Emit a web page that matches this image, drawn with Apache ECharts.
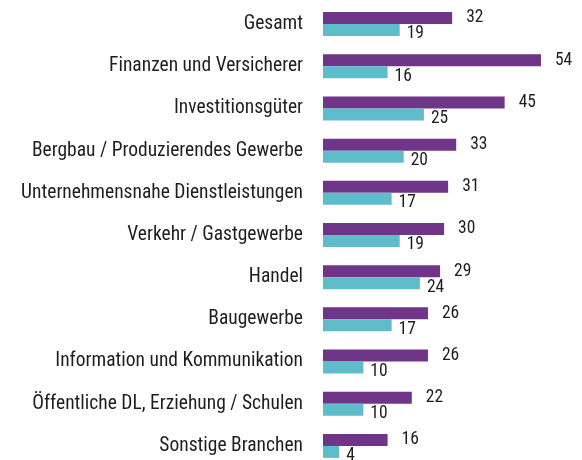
<!DOCTYPE html>
<html>
<head>
<meta charset="utf-8">
<script src="https://cdn.jsdelivr.net/npm/echarts@6/dist/echarts.min.js"></script>
<style>
  html, body { margin: 0; padding: 0; background: #fff; }
  #chart { width: 582px; height: 460px; }
</style>
</head>
<body>
<div id="chart"></div>
<script>
// Branchen von oben nach unten
const branchen = [
  "Gesamt",
  "Finanzen und Versicherer",
  "Investitionsgüter",
  "Bergbau / Produzierendes Gewerbe",
  "Unternehmensnahe Dienstleistungen",
  "Verkehr / Gastgewerbe",
  "Handel",
  "Baugewerbe",
  "Information und Kommunikation",
  "Öffentliche DL, Erziehung / Schulen",
  "Sonstige Branchen"
]
const werteLila = [32, 54, 45, 33, 31, 30, 29, 26, 26, 22, 16]
const werteTuerkis = [19, 16, 25, 20, 17, 19, 24, 17, 10, 10, 4]

const schrift = "'Roboto Condensed', 'Liberation Sans Narrow', sans-serif"

let myChart = echarts.init(document.getElementById("chart"))
myChart.setOption({
  animation: false,
  grid: {
    left: 323,
    top: 3,
    width: 242.2,
    height: 464,
    containLabel: false,
    outerBoundsMode: "none"
  },
  xAxis: {
    type: "value",
    min: 0,
    max: 60,
    show: false
  },
  yAxis: {
    type: "category",
    data: branchen,
    inverse: true,
    axisLine: { show: false },
    axisTick: { show: false },
    splitLine: { show: false },
    axisLabel: {
      margin: 20,
      fontSize: 19.5,
      color: "#1e1e1e",
      fontFamily: schrift
    }
  },
  series: [
    {
      type: "bar",
      data: werteLila,
      barWidth: 12,
      barGap: "0%",
      itemStyle: { color: "#6f3589" },
      label: {
        show: true,
        position: "right",
        distance: 14,
        fontSize: 17.5,
        color: "#1e1e1e",
        fontFamily: schrift
      }
    },
    {
      type: "bar",
      data: werteTuerkis,
      barWidth: 12,
      barGap: "0%",
      itemStyle: { color: "#5fbccb" },
      label: {
        show: true,
        position: "right",
        distance: 7,
        offset: [0, 4],
        fontSize: 17.5,
        color: "#1e1e1e",
        fontFamily: schrift
      }
    }
  ]
})
</script>
</body>
</html>
